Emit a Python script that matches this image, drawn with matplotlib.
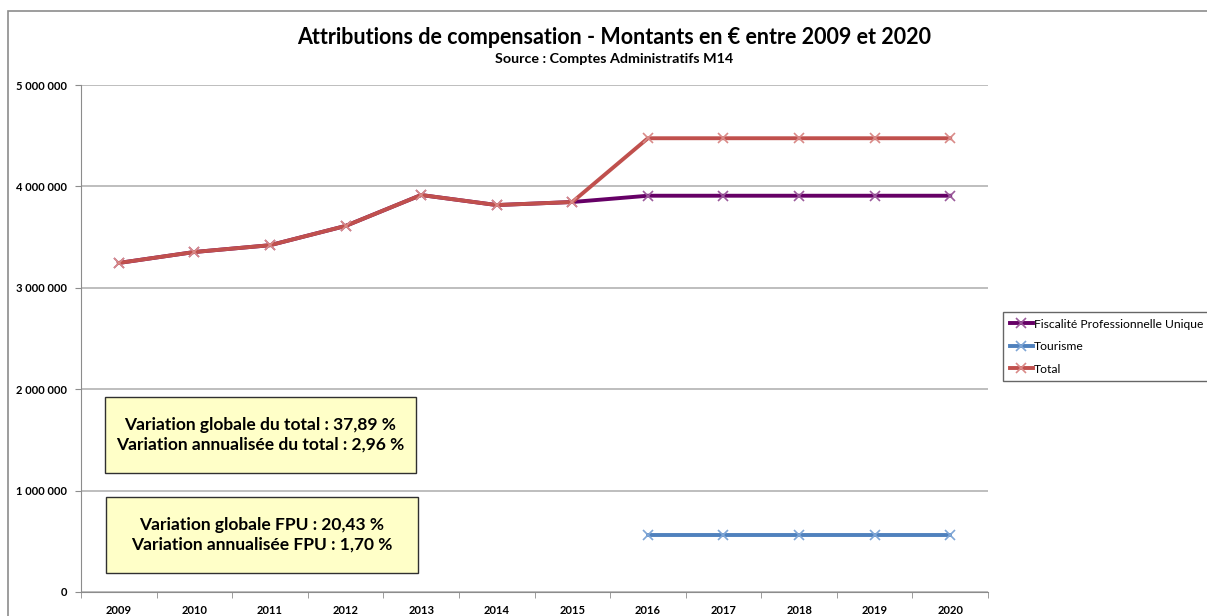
import matplotlib
matplotlib.use('Agg')
import matplotlib.pyplot as plt
from matplotlib.patches import Rectangle
from matplotlib.ticker import FuncFormatter, FixedLocator

plt.rcParams['font.family'] = ['Lato', 'DejaVu Sans']

years = ['2009', '2010', '2011', '2012', '2013', '2014', '2015', '2016', '2017', '2018', '2019', '2020']
fpu = [3245000, 3353000, 3420000, 3610000, 3915000, 3816000, 3846000, 3908000, 3908000, 3908000, 3908000, 3908000]
tourisme = [None, None, None, None, None, None, None, 567000, 567000, 567000, 567000, 567000]
total = [3245000, 3353000, 3420000, 3610000, 3915000, 3816000, 3846000, 4475000, 4475000, 4475000, 4475000, 4475000]

box_total = "Variation globale du total : 37,89 %\nVariation annualisée du total : 2,96 %"
box_fpu = "Variation globale FPU : 20,43 %\nVariation annualisée FPU : 1,70 %"

W, H = 1207, 616
fig = plt.figure(figsize=(W / 100, H / 100), dpi=100)

def fx(px):
    return px / W

def fy(py):
    return 1 - py / H

# outer chart border
fig.patches.append(Rectangle((fx(8), fy(640)), fx(1250), fy(11) - fy(640), transform=fig.transFigure,
                             fill=False, edgecolor='#8c8c8c', lw=1.2, zorder=0))

ax = fig.add_axes([fx(81), fy(592), fx(988) - fx(81), fy(85) - fy(592)])
x = list(range(len(years)))

t_x = [i for i, v in zip(x, tourisme) if v is not None]
t_y = [v for v in tourisme if v is not None]

ax.plot(x, fpu, color='#660066', lw=2.8, marker='x', ms=7, mew=1.2, mec='#9b5a9b',
        label='Fiscalité Professionnelle Unique', zorder=3)
ax.plot(t_x, t_y, color='#4f81bd', lw=2.8, marker='x', ms=7, mew=1.2, mec='#7fa6d6',
        label='Tourisme', zorder=3)
ax.plot(x, total, color='#c0504d', lw=2.8, marker='x', ms=7, mew=1.2, mec='#d98a88',
        label='Total', zorder=4)

ax.set_xlim(-0.5, len(years) - 0.5)
ax.set_ylim(0, 5000000)
ax.set_yticks(range(0, 5000001, 1000000))
ax.yaxis.set_major_formatter(FuncFormatter(lambda v, p: '{:,}'.format(int(v)).replace(',', ' ')))
ax.set_xticks(x)
ax.set_xticklabels(years)
ax.xaxis.set_minor_locator(FixedLocator([i - 0.5 for i in range(len(years) + 1)]))
ax.tick_params(axis='x', which='major', length=0, pad=9, labelsize=8)
ax.tick_params(axis='x', which='minor', length=4, color='#8c8c8c', direction='out')
ax.tick_params(axis='y', length=4, color='#8c8c8c', labelsize=8, pad=6)
for lab in ax.get_xticklabels() + ax.get_yticklabels():
    lab.set_fontweight('bold')

ax.grid(axis='y', color='#b3b3b3', lw=1.2)
ax.set_axisbelow(True)
for s in ['top', 'right']:
    ax.spines[s].set_visible(False)
for s in ['left', 'bottom']:
    ax.spines[s].set_color('#8c8c8c')

fig.text(fx(614), fy(37), 'Attributions de compensation - Montants en € entre 2009 et 2020',
         ha='center', va='center', fontsize=15.5, fontweight='bold')
fig.text(fx(614), fy(59), 'Source : Comptes Administratifs M14',
         ha='center', va='center', fontsize=10.3, fontweight='bold')

# summary boxes
for (x0, y0, x1, y1), txt in [((105, 397, 416, 473), box_total), ((106, 497, 418, 573), box_fpu)]:
    fig.patches.append(Rectangle((fx(x0), fy(y1)), fx(x1 - x0), fy(y0) - fy(y1), transform=fig.transFigure,
                                 facecolor='#ffffc8', edgecolor='#303030', lw=1.0, zorder=5))
    fig.text(fx((x0 + x1) / 2), fy((y0 + y1) / 2), txt, ha='center', va='center',
             fontsize=12.5, fontweight='bold', linespacing=1.3, zorder=6)

leg = fig.legend(loc='upper left', bbox_to_anchor=(fx(1003), fy(312)), fontsize=8.7,
                 frameon=True, fancybox=False, edgecolor='#404040', handlelength=1.9,
                 handletextpad=0.12, borderpad=0.55, labelspacing=0.95, borderaxespad=0)
leg.get_frame().set_linewidth(1.0)

fig.savefig('out.png', dpi=100)
